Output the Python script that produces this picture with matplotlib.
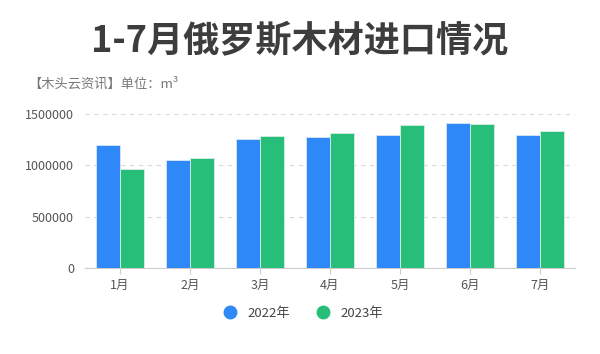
import matplotlib.pyplot as plt
import numpy as np
from matplotlib.lines import Line2D

plt.rcParams['font.family'] = ['Noto Sans CJK SC', 'DejaVu Sans']

months = ['1月', '2月', '3月', '4月', '5月', '6月', '7月']
y2022 = [1195000, 1055000, 1260000, 1275000, 1300000, 1417000, 1291000]
y2023 = [965000, 1075000, 1288000, 1317000, 1395000, 1398000, 1336000]
yticks = [0, 500000, 1000000, 1500000]

blue = '#2e88f8'
green = '#26be78'

fig = plt.figure(figsize=(6, 3.54), dpi=100)
ax = fig.add_axes([85 / 600, 1 - 268 / 354, 490 / 600, 154 / 354])

x = np.arange(len(months))
w = 0.34
ax.bar(x - w / 2, y2022, w, color=blue, edgecolor='#d8e6f5', linewidth=0.6, zorder=3)
ax.bar(x + w / 2, y2023, w, color=green, edgecolor='#d8eee2', linewidth=0.6, zorder=3)

ax.set_xlim(-0.5, len(months) - 0.5)
ax.set_ylim(0, 1500000)
ax.set_yticks(yticks)
ax.set_yticklabels([str(v) for v in yticks])
ax.set_xticks(x)
ax.set_xticklabels(months)
ax.tick_params(axis='y', length=0, pad=8, labelsize=9, labelcolor='#555555')
ax.tick_params(axis='x', length=4, color='#cccccc', pad=4, labelsize=9, labelcolor='#555555')
ax.yaxis.grid(True, linestyle=(0, (4, 4)), color='#d9d9d9', linewidth=0.8, zorder=0)
for s in ['top', 'right', 'left']:
    ax.spines[s].set_visible(False)
ax.spines['bottom'].set_color('#cccccc')

fig.text(0.5, 1 - 42 / 354, '1-7月俄罗斯木材进口情况', ha='center', va='center',
         fontsize=26, fontweight='bold', color='#3d3d3d')
fig.text(28 / 600, 1 - 84 / 354, '【木头云资讯】单位：m³', ha='left', va='center',
         fontsize=9.5, color='#777777')

handles = [Line2D([], [], marker='o', linestyle='', markersize=9, color=blue),
           Line2D([], [], marker='o', linestyle='', markersize=9, color=green)]
fig.legend(handles, ['2022年', '2023年'], loc='center', bbox_to_anchor=(0.5, 1 - 313 / 354),
           ncol=2, frameon=False, fontsize=9.5, handletextpad=0.3, columnspacing=1.5,
           labelcolor='#444444')

fig.savefig('out.png', dpi=100, facecolor='white')
